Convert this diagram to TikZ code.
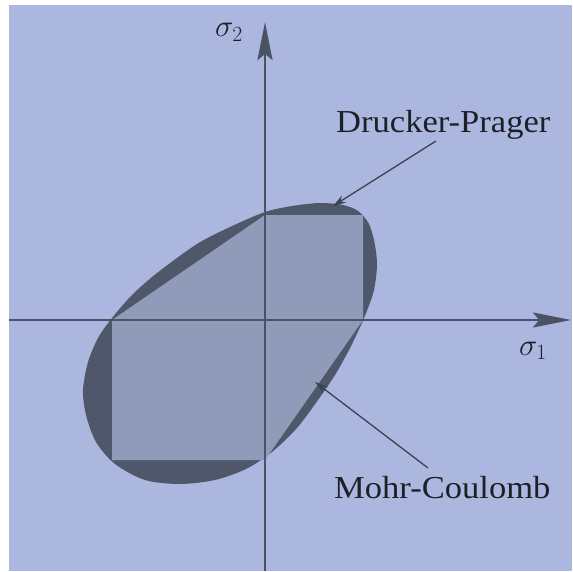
\documentclass[tikz,border=0pt]{standalone}
\usepackage{fix-cm}
\usepackage{fontspec}
\setmainfont{Liberation Serif}
\usetikzlibrary{arrows.meta}
\definecolor{bgblue}{HTML}{ABB7DE}
\definecolor{hexfill}{HTML}{8F9BB9}
\definecolor{dpfill}{HTML}{4F576B}
\definecolor{axisc}{HTML}{4A5264}
\definecolor{txtc}{HTML}{1E2028}
\begin{document}
\begin{tikzpicture}[x=1pt,y=-1pt,
  axisline/.style={draw=axisc,line width=2.6pt,-{Stealth[length=38pt,width=15pt,inset=6pt]}},
  annot/.style={draw=axisc!80!black,line width=1.3pt,-{Stealth[length=13pt,width=8pt]}},
  lbl/.style={text=txtc,inner sep=0pt,font=\fontsize{32}{38}\selectfont},
  sig/.style={text=txtc,inner sep=0pt,font=\fontsize{31}{36}\selectfont}]
\useasboundingbox (0,0) rectangle (572,572);
\fill[white] (0,0) rectangle (572,572);
\fill[bgblue] (9,5) rectangle (572,571);
% Drucker-Prager ellipse
\fill[dpfill] plot[smooth cycle] coordinates {
 (265,212) (292,206) (320,203) (343,205) (358,211) (369,224) (375,245) (377,266)
 (374,290) (368,308) (361,325) (349,350) (335,375) (318,400) (297,428) (272,452)
 (246,469) (215,480) (180,484) (145,480) (115,464) (96,442) (86,415) (83,390)
 (88,362) (98,338) (112,318) (132,295) (157,273) (197,244) (230,227)};
% Mohr-Coulomb hexagon
\fill[hexfill] (112,320) -- (265,215) -- (363,215) -- (363,320) -- (265,460) -- (112,460) -- cycle;
% axes
\coordinate (xs) at (9,320);
\coordinate (xe) at (571,320);
\coordinate (ys) at (265,571);
\coordinate (ye) at (265,22);
\draw[axisline] (xs) -- (xe);
\draw[axisline] (ys) -- (ye);
% labels
\node[sig,anchor=base west] (s2) at (215,37) {$\sigma_2$};
\node[sig,anchor=base west] (s1) at (519,355) {$\sigma_1$};
\node[lbl,anchor=base west] (dp) at (336,133) {\scalebox{1.08}[1]{Drucker-Prager}};
\node[lbl,anchor=base west] (mc) at (334,498) {\scalebox{1.08}[1]{Mohr-Coulomb}};
\coordinate (dpfrom) at (436,141);
\coordinate (dptip) at (333,206);
\coordinate (mcfrom) at (428,468);
\coordinate (mctip) at (315,382);
\draw[annot] (dpfrom) -- (dptip);
\draw[annot] (mcfrom) -- (mctip);
\end{tikzpicture}
\end{document}
